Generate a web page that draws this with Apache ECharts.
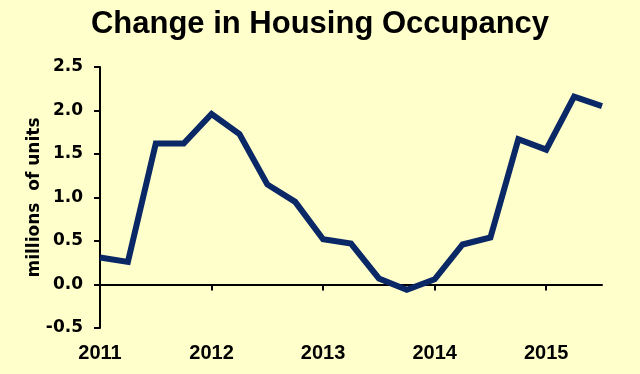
<!DOCTYPE html>
<html>
<head>
<meta charset="utf-8">
<script src="https://cdn.jsdelivr.net/npm/echarts@6/dist/echarts.min.js"></script>
<style>
html,body{margin:0;padding:0;background:#FFFFCC;}
#chart{width:640px;height:374px;}
</style>
</head>
<body>
<div id="chart"></div>
<script>
// Quarterly positions (year + fraction) and values, millions of units
const quarters = [2011, 2011.25, 2011.5, 2011.75, 2012, 2012.25, 2012.5, 2012.75, 2013, 2013.25, 2013.5, 2013.75, 2014, 2014.25, 2014.5, 2014.75, 2015, 2015.25, 2015.5];
const values = [0.31, 0.26, 1.62, 1.62, 1.96, 1.73, 1.15, 0.95, 0.52, 0.47, 0.07, -0.06, 0.06, 0.46, 0.54, 1.67, 1.55, 2.16, 2.05];
const yearTicks = [2011, 2012, 2013, 2014, 2015];
const titleText = 'Change in Housing Occupancy';
const yName = 'millions  of units';

const font = 'Liberation Sans, Arial, sans-serif';
const wideFont = 'DejaVu Sans, sans-serif';
const chart = echarts.init(document.getElementById('chart'), null, {renderer: 'canvas'});
const xBase = {
  type: 'value', min: 2011, max: 2015.5, interval: 1, position: 'bottom',
  splitLine: {show: false}
};
chart.setOption({
  backgroundColor: '#FFFFCC',
  animation: false,
  title: {
    text: titleText, left: 'center', top: 4,
    textStyle: {fontFamily: font, fontWeight: 'bold', fontSize: 31, color: '#000'}
  },
  grid: {left: 100, right: 38, top: 67, bottom: 46, containLabel: false},
  xAxis: [
    Object.assign({}, xBase, {
      axisLine: {show: false, onZero: false},
      axisTick: {show: false},
      axisLabel: {
        customValues: yearTicks, margin: 15,
        fontFamily: font, fontWeight: 'bold', fontSize: 20, color: '#000',
        formatter: v => String(v)
      }
    }),
    Object.assign({}, xBase, {
      axisLine: {show: true, onZero: true, lineStyle: {color: '#000', width: 2}},
      axisTick: {show: true, customValues: yearTicks, length: 6, inside: false, lineStyle: {color: '#000', width: 2}},
      axisLabel: {show: false}
    })
  ],
  yAxis: {
    type: 'value', min: -0.5, max: 2.5, interval: 0.5,
    name: yName, nameLocation: 'middle', nameGap: 57, nameRotate: 90,
    nameMoveOverlap: false,
    nameTextStyle: {fontFamily: wideFont, fontWeight: 'bold', fontSize: 17, color: '#000'},
    axisLine: {show: true, onZero: false, lineStyle: {color: '#000', width: 2}},
    axisTick: {show: true, length: 6, lineStyle: {color: '#000', width: 2}},
    axisLabel: {
      margin: 17, fontFamily: wideFont, fontWeight: 'bold', fontSize: 17, color: '#000',
      formatter: v => v.toFixed(1)
    },
    splitLine: {show: false}
  },
  series: [{
    type: 'line',
    xAxisIndex: 0,
    data: quarters.map((q, i) => [q, values[i]]),
    showSymbol: false,
    lineStyle: {color: '#0A2766', width: 6, join: 'miter', cap: 'butt'},
    itemStyle: {color: '#0A2766'}
  }]
});
</script>
</body>
</html>
